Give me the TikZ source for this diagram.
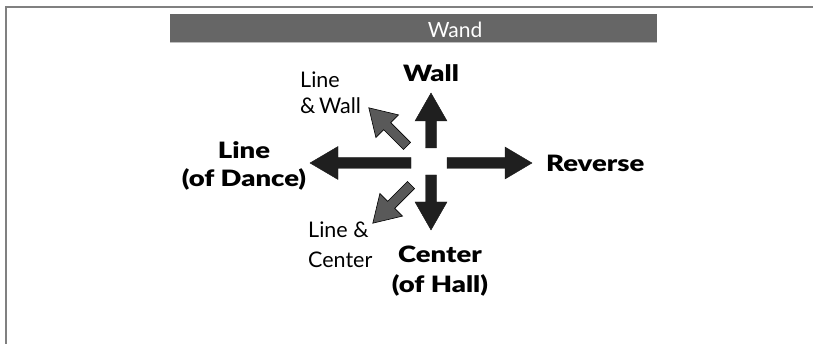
\documentclass[tikz,border=0pt]{standalone}
\usepackage{fontspec}
\setmainfont{Lato}
\newfontfamily\heavyfont{Lato Black}[FakeStretch=1.22]
\begin{document}
\begin{tikzpicture}[x=1pt,y=-1pt,
  frame/.style={draw=black!50, line width=1.5pt},
  bar/.style={fill=black!60},
  barshadow/.style={draw=black!25, line width=1.2pt},
  mainarrow/.style={fill=black!88, draw=black!90, line width=0.4pt},
  diagarrow/.style={fill=black!65, draw=black, line width=0.6pt},
  boldlabel/.style={font=\fontsize{22.5}{29}\heavyfont, inner sep=0pt},
  thinlabel/.style={font=\fontsize{21.5}{26}\selectfont, inner sep=0pt},
  titletext/.style={font=\fontsize{21}{24}\selectfont, text=white, inner sep=0pt}]

% block arrow: style, tail point, direction angle, length, head length, shaft half width, head half width
\newcommand\blockarrow[7]{%
  \path[#1, shift={#2}, rotate=#3]
    (0,-#6) -- ({#4-#5},-#6) -- ({#4-#5},-#7) -- (#4,0)
    -- ({#4-#5},#7) -- ({#4-#5},#6) -- (0,#6) -- cycle;}

\useasboundingbox (0,0) rectangle (813,344);

% page frame (left and top edges)
\draw[frame] (6,344) -- (6,7) -- (813,7);

% title bar
\fill[bar] (170,14) rectangle (657,42);
\draw[barshadow] (170,42.6) -- (657,42.6);
\node[titletext, anchor=base] (title) at (455,38) {Wand};

% centre of the compass
\coordinate (c) at (431,163);

% main directions
\blockarrow{mainarrow}{(431,148)}{90}{55}{28}{5.5}{16}
\blockarrow{mainarrow}{(411,163)}{180}{101}{28}{5.5}{16.5}
\blockarrow{mainarrow}{(447,163)}{0}{85}{27}{5.5}{16}
\blockarrow{mainarrow}{(431,175)}{270}{55}{28}{5.5}{16}

% diagonal directions
\blockarrow{diagarrow}{(407,146)}{135}{54}{26}{5}{16}
\blockarrow{diagarrow}{(411,185)}{225}{54}{26}{5}{16}

% labels
\node[boldlabel, anchor=base] (wall) at (431,82) {Wall};
\node[boldlabel, anchor=base west] (rev) at (546,172) {Reverse};
\node[boldlabel, anchor=base] (lod1) at (244,159) {Line};
\node[boldlabel, anchor=base] (lod2) at (244,187) {(of Dance)};
\node[boldlabel, anchor=base] (coh1) at (440,263) {Center};
\node[boldlabel, anchor=base] (coh2) at (440,293) {(of Hall)};
\node[thinlabel, anchor=base west] (lw1) at (300,88) {Line};
\node[thinlabel, anchor=base west] (lw2) at (300,114) {\&\,Wall};
\node[thinlabel, anchor=base west] (lc1) at (308,238) {Line \&};
\node[thinlabel, anchor=base west] (lc2) at (308,268) {Center};
\end{tikzpicture}
\end{document}
